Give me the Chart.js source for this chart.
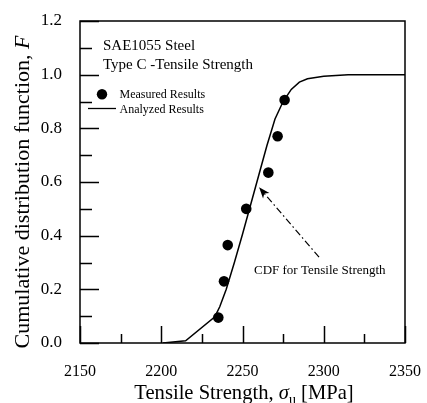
<!DOCTYPE html>
<html>
<head>
<meta charset="utf-8">
<script src="https://cdn.jsdelivr.net/npm/chart.js@4.4.1/dist/chart.umd.min.js"></script>
<style>
  html, body { margin: 0; padding: 0; background: #fff; }
  #wrap { width: 427px; height: 403px; position: relative; }
</style>
</head>
<body>
<div id="wrap"><canvas id="c" width="427" height="403"></canvas></div>
<script>
// ---- data ----
const measuredX = [2235.1, 2238.6, 2240.9, 2252.3, 2265.9, 2271.6, 2275.9];
const measuredF = [0.0946, 0.2297, 0.3649, 0.5, 0.6351, 0.7703, 0.9054];
const analyzedX = [2201, 2215, 2233, 2236, 2240, 2245, 2250, 2255, 2260, 2265, 2270, 2275, 2280, 2285, 2290, 2300, 2315, 2350];
const analyzedF = [0, 0.008, 0.098, 0.135, 0.2, 0.3, 0.405, 0.515, 0.625, 0.735, 0.835, 0.9, 0.945, 0.972, 0.985, 0.994, 1.0, 1.0];
const xTicks = [2150, 2200, 2250, 2300, 2350];
const yTicks = [0.0, 0.2, 0.4, 0.6, 0.8, 1.0, 1.2];
const seriesLabels = ['Measured Results', 'Analyzed Results'];
const noteLines = ['SAE1055 Steel', 'Type C -Tensile Strength'];
const arrowLabel = 'CDF for Tensile Strength';
const arrowTip = [2260.2, 0.58];
const arrowTail = [2297.1, 0.32];

const SERIF = '"Liberation Serif", "Times New Roman", serif';

const toPts = (xs, ys) => xs.map((x, i) => ({ x: x, y: ys[i] }));

const decor = {
  id: 'decor',
  afterDraw(chart) {
    const ctx = chart.ctx;
    const a = chart.chartArea;
    const xs = chart.scales.x, ys = chart.scales.y;
    ctx.save();
    ctx.strokeStyle = '#000';
    ctx.fillStyle = '#000';
    // inside ticks: y every 0.1
    ctx.lineWidth = 1.5;
    ctx.beginPath();
    for (let i = 0; i <= 12; i++) {
      const v = i / 10;
      const py = Math.round(ys.getPixelForValue(v)) + 0.5;
      const len = (i % 2 === 0) ? 19 : 12;
      ctx.moveTo(a.left, py); ctx.lineTo(a.left + len, py);
    }
    // x every 25
    for (let v = 2150; v <= 2350; v += 25) {
      const px = Math.round(xs.getPixelForValue(v)) + 0.5;
      const len = (v % 50 === 0) ? 17 : 9;
      ctx.moveTo(px, a.bottom); ctx.lineTo(px, a.bottom - len);
    }
    ctx.stroke();
    // frame
    ctx.lineWidth = 1.5;
    ctx.strokeRect(a.left, a.top, a.right - a.left, a.bottom - a.top);

    // notes
    ctx.textBaseline = 'alphabetic';
    ctx.textAlign = 'left';
    ctx.font = '15px ' + SERIF;
    ctx.fillText(noteLines[0], 103, 50);
    ctx.fillText(noteLines[1], 103, 69);

    // legend
    ctx.beginPath();
    ctx.arc(102, 94.3, 5.2, 0, Math.PI * 2);
    ctx.fill();
    ctx.lineWidth = 1.3;
    ctx.beginPath();
    ctx.moveTo(88, 108.5); ctx.lineTo(116, 108.5);
    ctx.stroke();
    ctx.font = '12px ' + SERIF;
    ctx.fillText(chart.data.datasets[0].label, 119.5, 97.5);
    ctx.fillText(chart.data.datasets[1].label, 119.5, 112.5);

    // arrow
    const tx = xs.getPixelForValue(arrowTip[0]), ty = ys.getPixelForValue(arrowTip[1]);
    const sx = xs.getPixelForValue(arrowTail[0]), sy = ys.getPixelForValue(arrowTail[1]);
    const ang = Math.atan2(ty - sy, tx - sx);
    const headLen = 11;
    const bx = tx - headLen * Math.cos(ang), by = ty - headLen * Math.sin(ang);
    ctx.lineWidth = 1.2;
    ctx.setLineDash([7, 3, 1.5, 3]);
    ctx.beginPath();
    ctx.moveTo(sx, sy); ctx.lineTo(bx + 3 * Math.cos(ang), by + 3 * Math.sin(ang));
    ctx.stroke();
    ctx.setLineDash([]);
    const pw = 4.2;
    const nx = -Math.sin(ang), ny = Math.cos(ang);
    ctx.beginPath();
    ctx.moveTo(tx, ty);
    ctx.lineTo(bx + nx * pw, by + ny * pw);
    ctx.lineTo(bx + 3 * Math.cos(ang), by + 3 * Math.sin(ang));
    ctx.lineTo(bx - nx * pw, by - ny * pw);
    ctx.closePath();
    ctx.fill();

    ctx.font = '13px ' + SERIF;
    ctx.fillText(arrowLabel, 254, 273.5);

    // x title: Tensile Strength, σu [MPa]
    const f1 = '20.6px ' + SERIF, fi = 'italic 20.6px ' + SERIF, fs = '14px ' + SERIF;
    const p1 = 'Tensile Strength, ', p2 = '\u03C3', p3 = 'u', p4 = ' [MPa]';
    ctx.font = f1; const w1 = ctx.measureText(p1).width, w4 = ctx.measureText(p4).width;
    ctx.font = fi; const w2 = ctx.measureText(p2).width;
    ctx.font = fs; const w3 = ctx.measureText(p3).width;
    const total = w1 + w2 + w3 + w4;
    let cx = (a.left + a.right) / 2 + 1.5 - total / 2;
    const base = 399;
    ctx.font = f1; ctx.fillText(p1, cx, base); cx += w1;
    ctx.font = fi; ctx.fillText(p2, cx, base); cx += w2;
    ctx.font = fs; ctx.fillText(p3, cx, base + 5); cx += w3;
    ctx.font = f1; ctx.fillText(p4, cx, base);

    // y title: Cumulative distribution function, F
    ctx.save();
    ctx.translate(29, 192);
    ctx.rotate(-Math.PI / 2);
    const q1 = 'Cumulative distribution function, ', q2 = 'F';
    const g1 = '22px ' + SERIF, gi = 'italic 22px ' + SERIF;
    ctx.font = g1; const v1 = ctx.measureText(q1).width;
    ctx.font = gi; const v2 = ctx.measureText(q2).width;
    let cy = -(v1 + v2) / 2;
    ctx.font = g1; ctx.fillText(q1, cy, 0); cy += v1;
    ctx.font = gi; ctx.fillText(q2, cy, 0);
    ctx.restore();

    ctx.restore();
  }
};

function zeroPad(s) { s.paddingLeft = 0; s.paddingRight = 0; s.paddingTop = 0; s.paddingBottom = 0; }

new Chart(document.getElementById('c'), {
  type: 'scatter',
  data: {
    datasets: [
      {
        label: seriesLabels[0],
        data: toPts(measuredX, measuredF),
        pointRadius: 5.3,
        pointBackgroundColor: '#000',
        pointBorderColor: '#000',
        pointBorderWidth: 0,
        showLine: false,
        order: 0
      },
      {
        label: seriesLabels[1],
        data: toPts(analyzedX, analyzedF),
        showLine: true,
        borderColor: '#000',
        borderWidth: 1.5,
        pointRadius: 0,
        tension: 0,
        fill: false,
        order: 1
      }
    ]
  },
  options: {
    responsive: false,
    animation: false,
    devicePixelRatio: 1,
    layout: { padding: { top: 21, right: 22, left: 0, bottom: 0 } },
    plugins: { legend: { display: false }, tooltip: { enabled: false }, title: { display: false } },
    scales: {
      x: {
        type: 'linear',
        min: 2150, max: 2350,
        afterFit(s) { s.height = 60; zeroPad(s); },
        afterBuildTicks(s) { s.ticks = xTicks.map(v => ({ value: v })); },
        grid: { display: false, drawTicks: false },
        border: { display: false },
        ticks: { color: '#000', font: { family: SERIF, size: 16 }, padding: 19, maxRotation: 0,
                 callback: v => String(v) }
      },
      y: {
        type: 'linear',
        min: 0, max: 1.2,
        afterFit(s) { s.width = 80; zeroPad(s); },
        afterBuildTicks(s) { s.ticks = yTicks.map(v => ({ value: v })); },
        grid: { display: false, drawTicks: false },
        border: { display: false },
        ticks: { color: '#000', font: { family: SERIF, size: 17 }, padding: 18,
                 callback: v => Number(v).toFixed(1) }
      }
    }
  },
  plugins: [decor]
});
</script>
</body>
</html>
